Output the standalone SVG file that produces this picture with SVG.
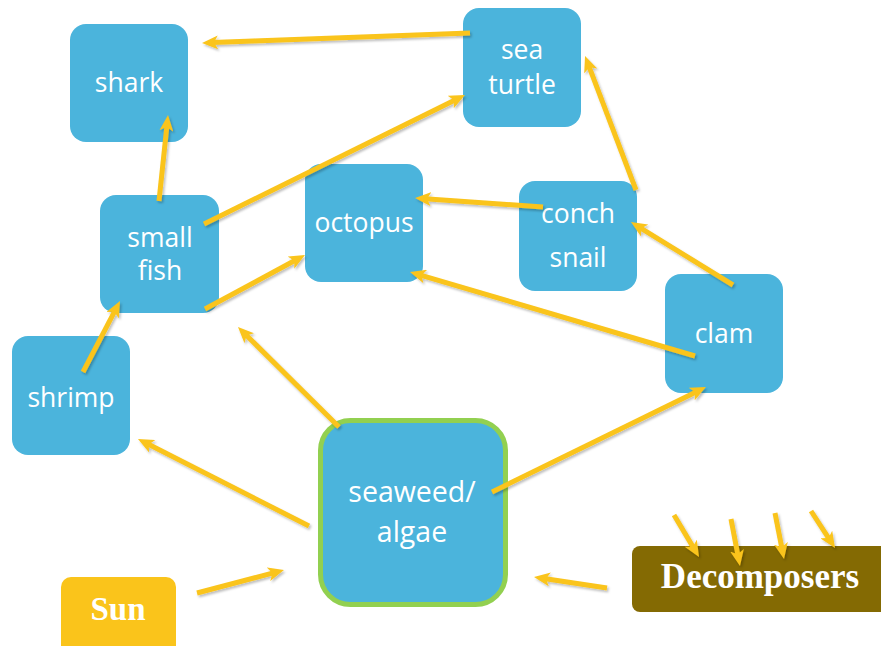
<svg xmlns="http://www.w3.org/2000/svg" width="881" height="646" viewBox="0 0 881 646">
<style>
.box{fill:#4BB4DC}
.lbl{font-family:"Open Sans","Liberation Sans",sans-serif;font-size:26.5px;fill:#fff;text-anchor:middle}
.big{font-family:"Liberation Serif",serif;font-weight:bold;font-size:33px;fill:#fff;text-anchor:middle}
.arr{stroke:#FAC41B;stroke-width:5;fill:none;marker-end:url(#ah)}
</style>
<defs>
<marker id="ah" markerUnits="userSpaceOnUse" markerWidth="16" markerHeight="14" refX="6" refY="7" orient="auto">
<path d="M0,0 L16,7 L0,14 L4,7 z" fill="#FAC41B"/>
</marker>
<filter id="sh" x="-10%" y="-10%" width="120%" height="120%">
<feDropShadow dx="1.5" dy="2" stdDeviation="1.2" flood-color="#000" flood-opacity="0.25"/>
</filter>
</defs>
<rect width="881" height="646" fill="#fff"/>
<g id="shark"><rect class="box" x="70" y="24" width="118" height="118" rx="16"/><text class="lbl" x="129" y="92">shark</text></g>
<g id="sea-turtle"><rect class="box" x="463" y="8" width="118" height="119" rx="16"/><text class="lbl" x="522" y="59">sea</text><text class="lbl" x="522" y="94">turtle</text></g>
<g id="small-fish"><rect class="box" x="100" y="195" width="119" height="118" rx="16"/><text class="lbl" x="160" y="247">small</text><text class="lbl" x="160" y="280">fish</text></g>
<g id="octopus"><rect class="box" x="305" y="164" width="118" height="118" rx="16"/><text class="lbl" x="364" y="232">octopus</text></g>
<g id="conch-snail"><rect class="box" x="519" y="181" width="118" height="110" rx="16"/><text class="lbl" x="578" y="223">conch</text><text class="lbl" x="578" y="267">snail</text></g>
<g id="clam"><rect class="box" x="665" y="274" width="118" height="119" rx="16"/><text class="lbl" x="724" y="343">clam</text></g>
<g id="shrimp"><rect class="box" x="12" y="336" width="118" height="119" rx="16"/><text class="lbl" x="71" y="407">shrimp</text></g>
<g id="seaweed"><rect class="box" x="320.5" y="420.5" width="185" height="184" rx="30" stroke="#92D050" stroke-width="5"/><text class="lbl" x="412" y="502" style="font-size:28.5px">seaweed/</text><text class="lbl" x="412" y="542" style="font-size:28.5px">algae</text></g>
<g id="sun"><rect x="61" y="577" width="115" height="80" rx="10" fill="#FAC41B"/><text class="big" x="118" y="620">Sun</text></g>
<g id="decomposers"><rect x="632" y="546" width="260" height="66" rx="8" fill="#846A03"/><text class="big" x="760" y="588" style="font-size:35px">Decomposers</text></g>
<g id="connectors" filter="url(#sh)">
<line class="arr" x1="470" y1="33" x2="212" y2="42.6"/>
<line class="arr" x1="159" y1="201" x2="167" y2="125"/>
<line class="arr" x1="204" y1="224" x2="456" y2="99.4"/>
<line class="arr" x1="205" y1="309" x2="296.2" y2="259.8"/>
<line class="arr" x1="543" y1="207" x2="425" y2="198.7"/>
<line class="arr" x1="695" y1="356" x2="419.6" y2="274.8"/>
<line class="arr" x1="636" y1="190" x2="588.6" y2="65.3"/>
<line class="arr" x1="733" y1="285" x2="639.5" y2="227.3"/>
<line class="arr" x1="83" y1="372" x2="115.4" y2="309.9"/>
<line class="arr" x1="339" y1="427" x2="245.1" y2="334"/>
<line class="arr" x1="309" y1="526" x2="146.9" y2="443.5"/>
<line class="arr" x1="492" y1="492" x2="697" y2="391.4"/>
<line class="arr" x1="197" y1="593" x2="274.3" y2="572.6"/>
<line class="arr" x1="607" y1="588" x2="543.9" y2="578.5"/>
<line class="arr" x1="674" y1="515" x2="693.9" y2="548.4"/>
<line class="arr" x1="731" y1="519" x2="738.1" y2="556.2"/>
<line class="arr" x1="775" y1="513" x2="782.1" y2="549.2"/>
<line class="arr" x1="811" y1="511" x2="829.6" y2="539.6"/>
</g>
</svg>
